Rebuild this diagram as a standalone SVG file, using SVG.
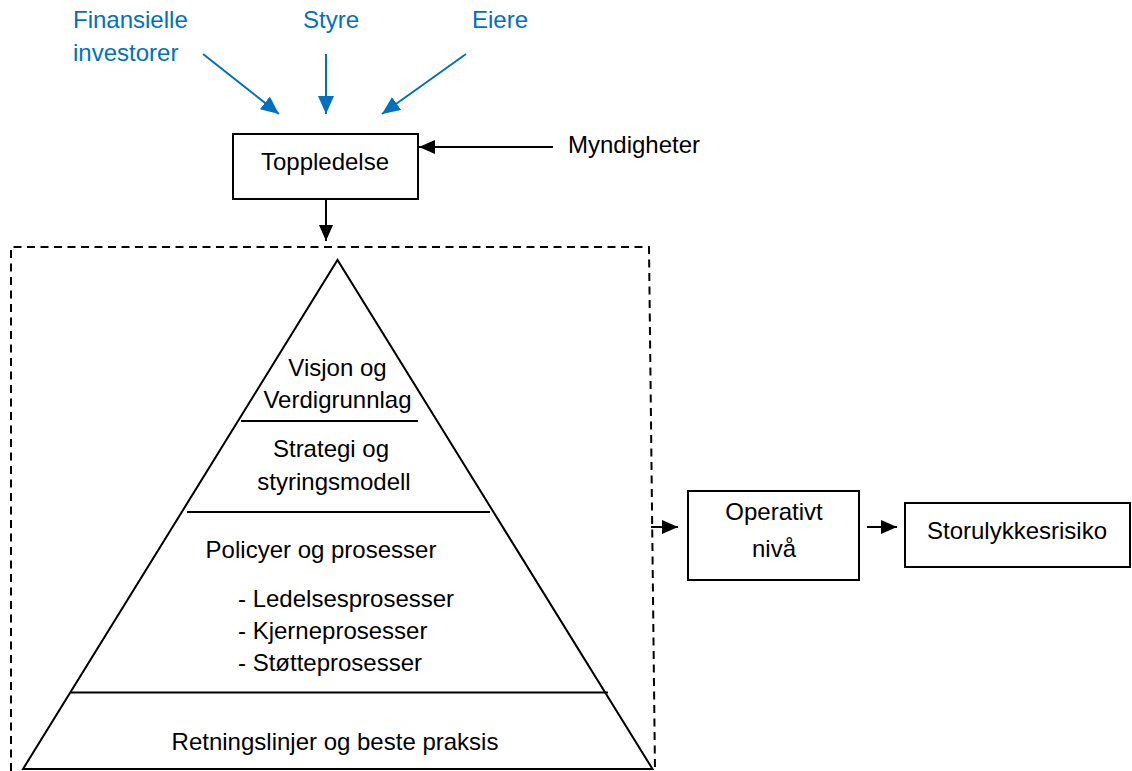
<svg xmlns="http://www.w3.org/2000/svg" width="1132" height="771" viewBox="0 0 1132 771">
<style>
text{font-family:"Liberation Sans",Arial,sans-serif;font-size:24px;fill:#000}
.blue{fill:#0070C0}
.box{fill:#fff;stroke:#000;stroke-width:2}
.ln{stroke:#000;stroke-width:2;fill:none}
.bl{stroke:#0070C0;stroke-width:2;fill:none}
.c{text-anchor:middle}
</style>
<defs>
<marker id="ab" markerUnits="userSpaceOnUse" markerWidth="20" markerHeight="18" refX="18" refY="8" orient="auto">
<path d="M0,0 L18,8 L0,16 z" fill="#0070C0"/>
</marker>
<marker id="ak" markerUnits="userSpaceOnUse" markerWidth="18" markerHeight="16" refX="16" refY="7" orient="auto">
<path d="M0,0 L16,7 L0,14 z" fill="#000"/>
</marker>
</defs>
<rect width="1132" height="771" fill="#fff"/>

<g id="finansielle"><text class="blue" x="73" y="28">Finansielle</text><text class="blue" x="73" y="61">investorer</text></g>
<g id="styre"><text class="blue c" x="331" y="28">Styre</text></g>
<g id="eiere"><text class="blue c" x="500" y="28">Eiere</text></g>
<g id="myndigheter"><text x="568" y="153">Myndigheter</text></g>
<g id="toppledelse"><rect class="box" x="233" y="134" width="185" height="65"/><text class="c" x="325" y="170">Toppledelse</text></g>

<g id="pyramide">
<path d="M11,771 L11,247 L649,247 L655,771" fill="none" stroke="#000" stroke-width="2" stroke-dasharray="8 5.5"/>
<path class="ln" d="M23,769 L337.5,260 L652.5,769 Z"/>
<line class="ln" x1="241" y1="421" x2="418" y2="421"/>
<line class="ln" x1="187" y1="512" x2="490" y2="512"/>
<line class="ln" x1="71" y1="692.5" x2="608" y2="692.5"/>
<text class="c" x="337.5" y="376">Visjon og</text>
<text class="c" x="337.5" y="408">Verdigrunnlag</text>
<text class="c" x="331" y="457">Strategi og</text>
<text class="c" x="334" y="490">styringsmodell</text>
<text class="c" x="321" y="558">Policyer og prosesser</text>
<text x="238" y="607">- Ledelsesprosesser</text>
<text x="238" y="639">- Kjerneprosesser</text>
<text x="238" y="671">- Støtteprosesser</text>
<text class="c" x="335" y="750">Retningslinjer og beste praksis</text>
</g>

<g id="operativt"><rect class="box" x="688" y="491" width="171" height="89"/><text class="c" x="774" y="520">Operativt</text><text class="c" x="774" y="557">nivå</text></g>
<g id="storulykke"><rect class="box" x="905" y="503" width="225" height="64"/><text x="927" y="539">Storulykkesrisiko</text></g>

<g id="connectors">
<line class="bl" x1="203" y1="54" x2="279" y2="114" marker-end="url(#ab)"/>
<line class="bl" x1="326" y1="54" x2="326" y2="114" marker-end="url(#ab)"/>
<line class="bl" x1="466" y1="54" x2="382" y2="114" marker-end="url(#ab)"/>
<line class="ln" x1="553" y1="147" x2="419" y2="147" marker-end="url(#ak)"/>
<line class="ln" x1="326" y1="199" x2="326" y2="241" marker-end="url(#ak)"/>
<line class="ln" x1="651" y1="527" x2="678" y2="527" marker-end="url(#ak)"/>
<line class="ln" x1="867" y1="527" x2="897" y2="527" marker-end="url(#ak)"/>
</g>
</svg>
